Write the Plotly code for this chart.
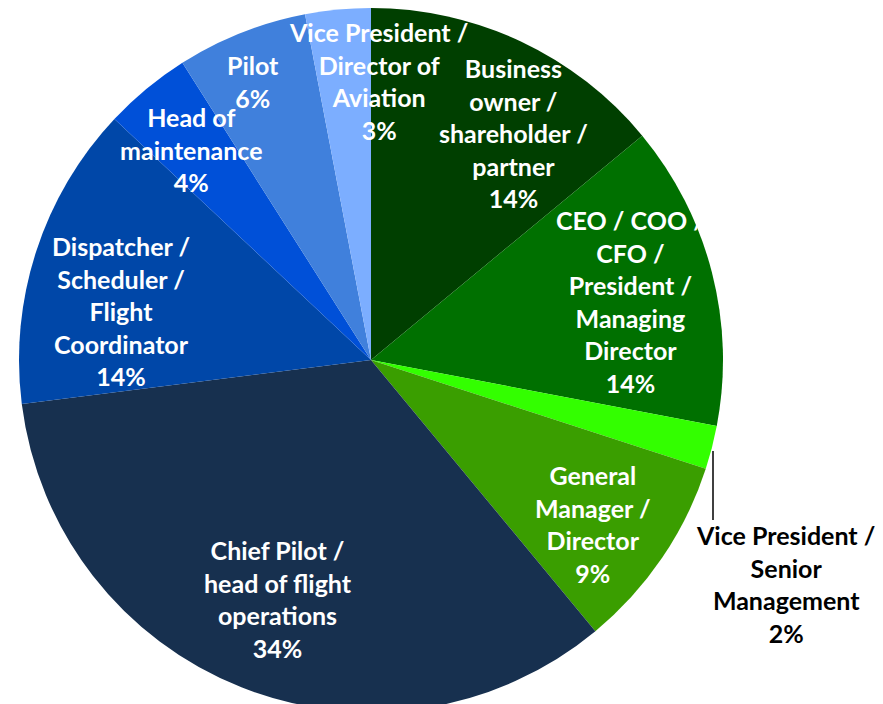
import plotly.graph_objects as go

categories = [
    "Business owner / shareholder / partner",
    "CEO / COO / CFO / President / Managing Director",
    "Vice President / Senior Management",
    "General Manager / Director",
    "Chief Pilot / head of flight operations",
    "Dispatcher / Scheduler / Flight Coordinator",
    "Head of maintenance",
    "Pilot",
    "Vice President / Director of Aviation",
]
label_lines = [
    "Business<br>owner /<br>shareholder /<br>partner",
    "CEO / COO /<br>CFO /<br>President /<br>Managing<br>Director",
    "Vice President /<br>Senior<br>Management",
    "General<br>Manager /<br>Director",
    "Chief Pilot /<br>head of flight<br>operations",
    "Dispatcher /<br>Scheduler /<br>Flight<br>Coordinator",
    "Head of<br>maintenance",
    "Pilot",
    "Vice President /<br>Director of<br>Aviation",
]
values = [14, 14, 2, 9, 34, 14, 4, 6, 3]
colors = ["#003f00", "#007000", "#33ff00", "#3a9e00", "#17304f",
          "#0047a8", "#0050d8", "#4080dc", "#7caeff"]

# label anchor positions in pixels (layout only)
label_px = [(505, 125), (622, 293), (777, 576), (585, 516), (270, 591),
            (113, 303), (183, 141), (245, 73), (370, 73)]
label_color = ["white", "white", "black", "white", "white",
               "white", "white", "white", "white"]

W, H = 883, 704
fig = go.Figure(go.Pie(
    labels=categories,
    values=values,
    sort=False,
    direction="clockwise",
    rotation=0,
    marker=dict(colors=colors, line=dict(width=0)),
    textinfo="none",
    hoverinfo="label+percent",
    domain=dict(x=[0, 726 / W], y=[0, 1]),
    showlegend=False,
))

FONT = "Lato"
annotations = []
for txt, v, (px, py), c in zip(label_lines, values, label_px, label_color):
    annotations.append(dict(
        x=px / W, y=1 - py / H, xref="paper", yref="paper",
        text=f"{txt}<br>{v}%", showarrow=False,
        xanchor="center", yanchor="middle",
        font=dict(family=FONT, size=25, color=c, weight="bold"),
        align="center",
    ))

fig.update_layout(
    width=W, height=H,
    margin=dict(l=0, r=0, t=0, b=0),
    paper_bgcolor="white", plot_bgcolor="white",
    annotations=annotations,
    shapes=[dict(type="line", xref="paper", yref="paper",
                 x0=705 / W, x1=705 / W, y0=1 - 443 / H, y1=1 - 512 / H,
                 line=dict(color="black", width=1.5))],
)
fig.write_html("out.html")
